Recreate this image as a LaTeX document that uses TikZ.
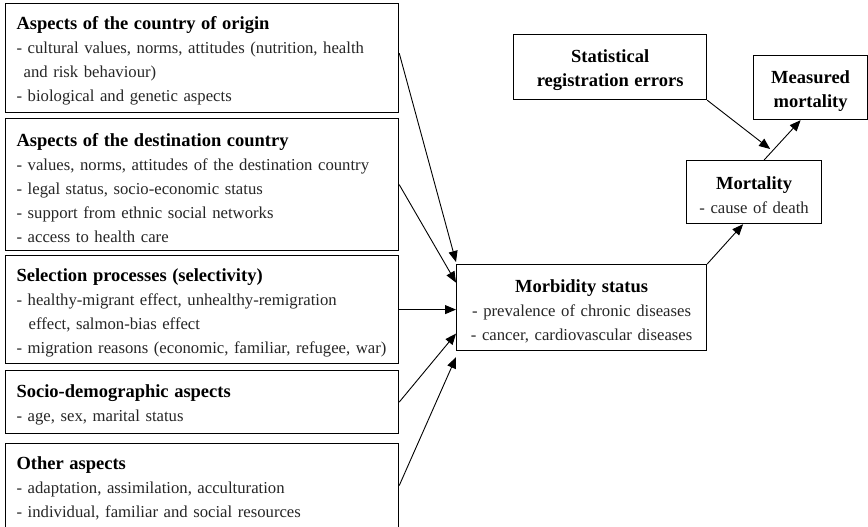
\documentclass[tikz,border=0pt]{standalone}
\usepackage{fontspec}
\setmainfont{Liberation Serif}
\usetikzlibrary{arrows.meta}
\newcommand{\ttl}{\fontsize{18.5}{24}\selectfont\bfseries}
\begin{document}
\begin{tikzpicture}[x=1pt,y=-1pt,
  box/.style={draw, line width=1.2pt, anchor=north west, inner xsep=11pt, inner ysep=0pt,
    align=left, font=\fontsize{16.7}{24}\selectfont, text=black!85,
    execute at begin node={\rule{0pt}{19pt}}},
  cbox/.style={draw, line width=1.2pt, anchor=north west, inner sep=0pt,
    align=center, font=\fontsize{16.7}{24}\selectfont, text=black!85,
    execute at begin node={\rule{0pt}{19.5pt}}},
  arr/.style={line width=0.9pt, -{Triangle[length=11pt,width=9pt]}}]
\useasboundingbox (0,0) rectangle (868,527);

\node[box, minimum width=393, minimum height=109, text width=371] (b1) at (5,3)
  {{\ttl\color{black}Aspects of the country of origin}\\
   - cultural values, norms, attitudes (nutrition, health\\
   \hspace*{7pt}and risk behaviour)\\
   - biological and genetic aspects};
\node[box, minimum width=393, minimum height=132, text width=371] (b2) at (5,118)
  {{\ttl\color{black}Aspects of the destination country}\\
   - values, norms, attitudes of the destination country\\
   - legal status, socio-economic status\\
   - support from ethnic social networks\\
   - access to health care};
\node[box, minimum width=393, minimum height=108, text width=371] (b3) at (5,255)
  {{\ttl\color{black}Selection processes (selectivity)}\\
   - healthy-migrant effect, unhealthy-remigration\\
   \hspace*{12pt}effect, salmon-bias effect\\
   - migration reasons (economic, familiar, refugee, war)};
\node[box, minimum width=393, minimum height=63, text width=371] (b4) at (5,370)
  {{\ttl\color{black}Socio-demographic aspects}\\
   - age, sex, marital status};
\node[box, minimum width=393, minimum height=84, text width=371] (b5) at (5,443)
  {{\ttl\color{black}Other aspects}\\
   - adaptation, assimilation, acculturation\\
   - individual, familiar and social resources};

\node[cbox, minimum width=250, minimum height=86, text width=250] (mb) at (456,264)
  {{\ttl\color{black}Morbidity status}\\
   - prevalence of chronic diseases\\
   - cancer, cardiovascular diseases};
\node[cbox, minimum width=135, minimum height=63, text width=135] (mo) at (686,160)
  {{\ttl\color{black}Mortality}\\
   - cause of death};
\node[cbox, minimum width=193, minimum height=65, text width=193] (st) at (513,34)
  {{\ttl\color{black}Statistical}\\
   {\ttl\color{black}registration errors}};
\node[cbox, minimum width=114, minimum height=64, text width=114] (me) at (753,55)
  {{\ttl\color{black}Measured}\\
   {\ttl\color{black}mortality}};

\draw[arr] ([yshift=5pt]b1.east) -- ([yshift=2pt]mb.north west);
\draw[arr] (b2.east) -- ([yshift=25pt]mb.west);
\draw[arr] (b3.east) -- (b3.east -| mb.west);
\draw[arr] (b4.east) -- ([yshift=-26pt]mb.west);
\draw[arr] (b5.east) -- ([yshift=-6pt]mb.south west);
\draw[arr] (mb.north east) -- ([xshift=-11pt]mo.south);
\draw[arr] (st.south east) -- ([xshift=16pt,yshift=11pt]mo.north);
\draw[arr] ([xshift=10pt]mo.north) -- ([xshift=-10pt]me.south);
\end{tikzpicture}
\end{document}
